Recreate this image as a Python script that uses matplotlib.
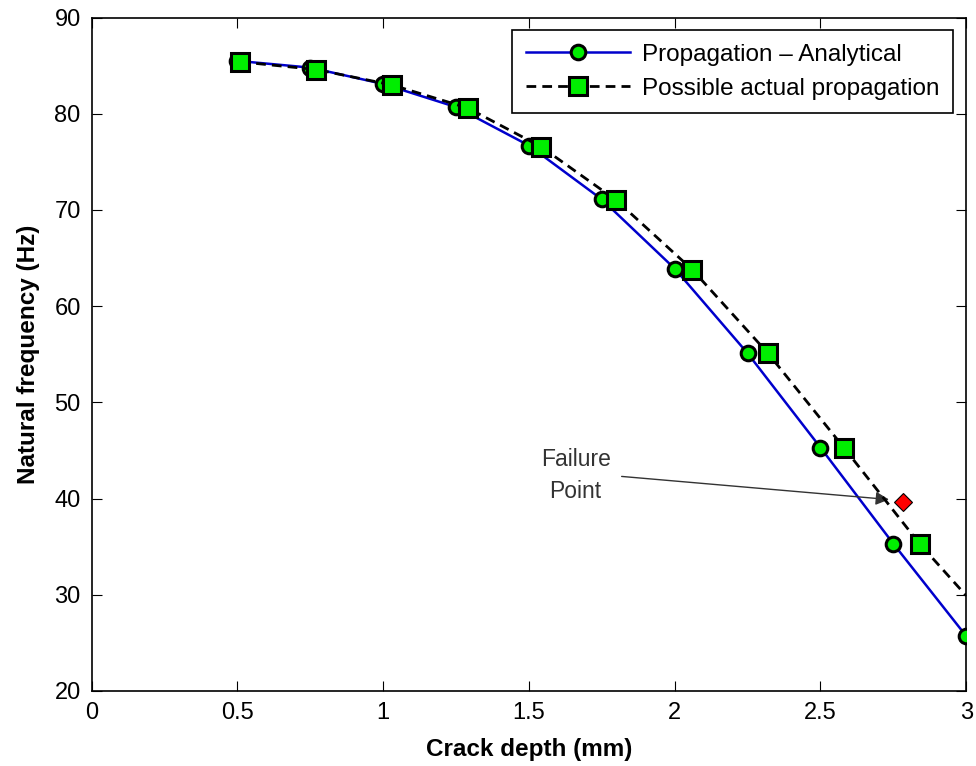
import numpy as np
import matplotlib
matplotlib.use('Agg')
from matplotlib import pyplot as plt

plt.rcParams['font.family'] = ['Liberation Sans', 'DejaVu Sans']

# Data
depth_ana = [0.5, 0.75, 1.0, 1.25, 1.5, 1.75, 2.0, 2.25, 2.5, 2.75, 3.0]
freq_ana = [85.5, 84.8, 83.1, 80.7, 76.7, 71.1, 63.9, 55.1, 45.3, 35.3, 25.7]

depth_act = [0.51, 0.77, 1.03, 1.29, 1.54, 1.80, 2.06, 2.32, 2.58, 2.84, 3.0]
freq_act = [85.4, 84.6, 83.0, 80.6, 76.6, 71.0, 63.8, 55.1, 45.3, 35.3, 29.9]

fail_x = [2.784]
fail_y = [39.6]

xticks = [0, 0.5, 1, 1.5, 2, 2.5, 3]
xticklabels = ['0', '0.5', '1', '1.5', '2', '2.5', '3']
yticks = [20, 30, 40, 50, 60, 70, 80, 90]

fig = plt.figure(figsize=(9.76, 7.66), dpi=100)
ax = fig.add_axes([0.094, 0.098, 0.896, 0.879])

ax.plot(depth_ana, freq_ana, '-o', color='#0000cc', lw=1.8, ms=10.5,
        mfc='#00ee00', mec='black', mew=2.2, label='Propagation \u2013 Analytical',
        zorder=3)
ax.plot(depth_act, freq_act, '--s', color='black', lw=2.0, ms=12.5,
        mfc='#00ee00', mec='black', mew=2.2, markevery=list(range(10)),
        label='Possible actual propagation', zorder=4, dashes=(3.5, 2.2))
ax.plot(fail_x, fail_y, 'D', ms=9, mfc='red', mec='black', mew=0.8, zorder=5)

ax.annotate('Failure\nPoint', xy=(2.735, 39.9), xytext=(1.66, 42.4),
            ha='center', va='center', fontsize=16.5, color='#333333',
            linespacing=1.5,
            arrowprops=dict(arrowstyle='-|>', color='#333333', lw=1.0,
                            shrinkA=6, shrinkB=0, mutation_scale=20,
                            relpos=(1.0, 0.5)))

ax.set_xlim(0, 3)
ax.set_ylim(20, 90)
ax.set_xticks(xticks)
ax.set_xticklabels(xticklabels)
ax.set_yticks(yticks)
ax.tick_params(direction='in', top=True, right=True, length=7, labelsize=17, pad=8)
for s in ax.spines.values():
    s.set_linewidth(1.2)

ax.set_xlabel('Crack depth (mm)', fontsize=17.5, fontweight='bold', labelpad=10)
ax.set_ylabel('Natural frequency (Hz)', fontsize=17.5, fontweight='bold', labelpad=10)

leg = ax.legend(loc='upper right', fontsize=17.5, fancybox=False, framealpha=1,
                edgecolor='black', handlelength=4.3, handletextpad=0.5,
                borderpad=0.55, labelspacing=0.5, borderaxespad=0,
                bbox_to_anchor=(0.985, 0.981))
leg.get_frame().set_linewidth(1.2)

plt.savefig('out.png', dpi=100)
